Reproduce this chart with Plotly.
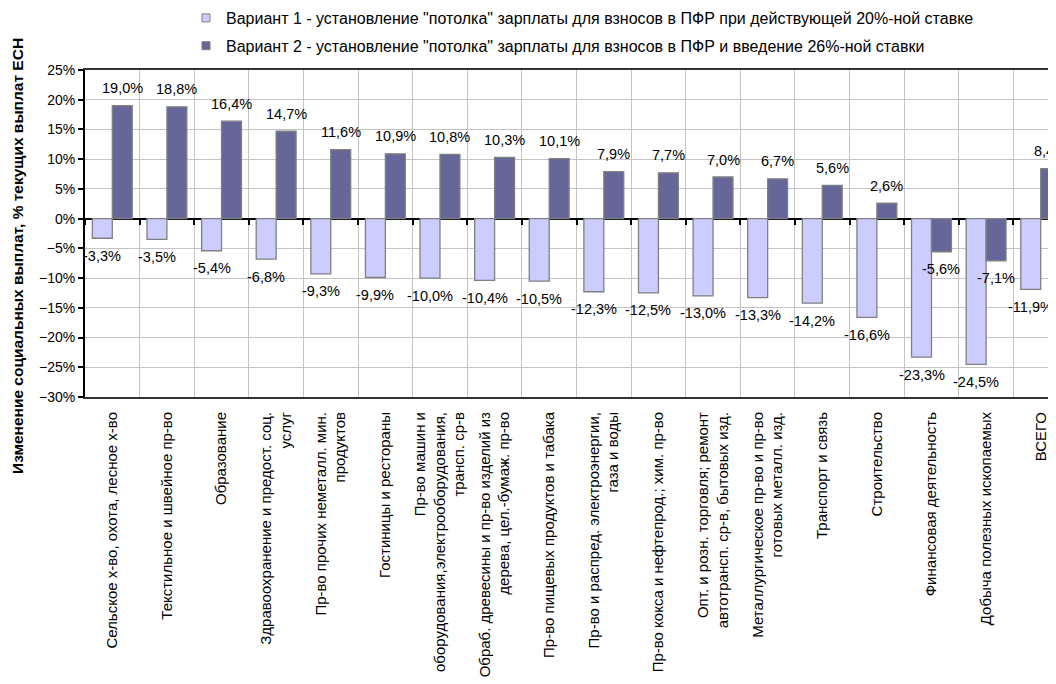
import plotly.graph_objects as go

categories = [
    "Сельское х-во, охота, лесное х-во",
    "Текстильное и швейное пр-во",
    "Образование",
    "Здравоохранение и предост. соц.<br>услуг",
    "Пр-во прочих неметалл. мин.<br>продуктов",
    "Гостиницы и рестораны",
    "Пр-во машин и<br>оборудования,электрооборудования,<br>трансп. ср-в",
    "Обраб. древесины и пр-во изделий из<br>дерева, цел.-бумаж. пр-во",
    "Пр-во пищевых продуктов и табака",
    "Пр-во и распред. электроэнергии,<br>газа и воды",
    "Пр-во кокса и нефтепрод.; хим. пр-во",
    "Опт. и розн. торговля; ремонт<br>автотрансп. ср-в, бытовых изд.",
    "Металлургическое пр-во и пр-во<br>готовых металл. изд.",
    "Транспорт и связь",
    "Строительство",
    "Финансовая деятельность",
    "Добыча полезных ископаемых",
    "ВСЕГО",
]

variant1 = [-3.3, -3.5, -5.4, -6.8, -9.3, -9.9, -10.0, -10.4, -10.5, -12.3,
            -12.5, -13.0, -13.3, -14.2, -16.6, -23.3, -24.5, -11.9]
variant2 = [19.0, 18.8, 16.4, 14.7, 11.6, 10.9, 10.8, 10.3, 10.1, 7.9,
            7.7, 7.0, 6.7, 5.6, 2.6, -5.6, -7.1, 8.4]

name1 = 'Вариант 1 - установление "потолка" зарплаты для взносов в ПФР при действующей 20%-ной ставке'
name2 = 'Вариант 2 - установление "потолка" зарплаты для взносов в ПФР и введение 26%-ной ставки'
ytitle = "Изменение социальных выплат, % текущих выплат ЕСН"

FONT = "Liberation Sans, Arial, sans-serif"
C1 = "#ccccff"
C2 = "#666699"
EDGE = "#808080"
GRID = "#c4c4c4"

# page offset (default body margin) and plot-area geometry in page pixels
OFF = 8
L, T, B = 85 - OFF, 70 - OFF, 397 - OFF
W, H = 1056 - OFF, 684 - OFF
PW, PH = W - L, B - T

BARGAP = 0.27
half = (1 - BARGAP) / 4  # offset of each bar centre from category centre

fig = go.Figure()
fig.add_trace(go.Bar(x=categories, y=variant1, name=name1, showlegend=False,
                     marker=dict(color=C1, line=dict(color=EDGE, width=1.3))))
fig.add_trace(go.Bar(x=categories, y=variant2, name=name2, showlegend=False,
                     marker=dict(color=C2, line=dict(color=EDGE, width=1.3))))

# legend entries with small square symbols
fig.add_trace(go.Scatter(x=[None], y=[None], mode="markers", name=name1,
                         legendgroup="a",
                         marker=dict(symbol="square", size=8, color=C1,
                                     line=dict(color=EDGE, width=1))))
fig.add_trace(go.Scatter(x=[None], y=[None], mode="markers", name=name2,
                         legendgroup="b",
                         marker=dict(symbol="square", size=8, color=C2,
                                     line=dict(color=EDGE, width=1))))

# helper trace for the zero-line tick marks
fig.add_trace(go.Scatter(x=categories, y=[None] * len(categories), xaxis="x2",
                         mode="markers", showlegend=False, hoverinfo="skip"))

def fmt(v):
    return f"{v:.1f}".replace(".", ",") + "%"

annotations = []
for series, sign in ((variant1, -1), (variant2, 1)):
    for i, v in enumerate(series):
        annotations.append(dict(
            x=i + sign * half, y=v, xref="x", yref="y",
            text=fmt(v), showarrow=False,
            yshift=17.5 if v >= 0 else -17.5,
            xanchor="center", yanchor="middle",
            font=dict(family=FONT, size=14.5, color="#000000")))

annotations.append(dict(
    x=(18 - OFF - L) / PW, y=(B - (256 - OFF)) / PH, xref="paper", yref="paper",
    text=f"<b>{ytitle}</b>", textangle=-90, showarrow=False,
    xanchor="center", yanchor="middle",
    font=dict(family=FONT, size=15.5, color="#000000")))

fig.update_layout(
    width=W, height=H,
    margin=dict(l=L, r=0, t=T, b=H - B, autoexpand=False),
    paper_bgcolor="white", plot_bgcolor="white",
    font=dict(family=FONT, size=14, color="#000000"),
    barmode="group", bargap=BARGAP, bargroupgap=0,
    annotations=annotations,
    legend=dict(x=(186 - OFF - L) / PW, y=1 + (T + 7) / PH,
                xanchor="left", yanchor="top",
                font=dict(family=FONT, size=16, color="#000000"),
                tracegroupgap=4, bgcolor="rgba(0,0,0,0)"),
    xaxis=dict(type="category", range=[-0.5, 17.28], tickson="boundaries",
               showgrid=True, gridcolor=GRID, gridwidth=1,
               tickangle=-90, ticks="", ticklabelstandoff=7,
               showline=True, linecolor="#333333", linewidth=2, mirror=True,
               tickfont=dict(family=FONT, size=15, color="#000000")),
    xaxis2=dict(type="category", matches="x", overlaying="x", anchor="free",
                position=30 / 55, side="bottom", tickson="boundaries",
                ticks="outside", ticklen=5, tickcolor="#000000", tickwidth=1.5,
                showticklabels=False, showgrid=False, showline=False,
                zeroline=False),
    yaxis=dict(range=[-30, 25], dtick=5, ticksuffix="%",
               showgrid=True, gridcolor=GRID, gridwidth=1,
               zeroline=True, zerolinecolor="#000000", zerolinewidth=1.5,
               showline=True, linecolor="#000000", linewidth=2,
               ticks="outside", ticklen=5, tickcolor="#000000", tickwidth=1.5,
               tickfont=dict(family=FONT, size=14, color="#000000")),
)

fig.write_html("out.html")
